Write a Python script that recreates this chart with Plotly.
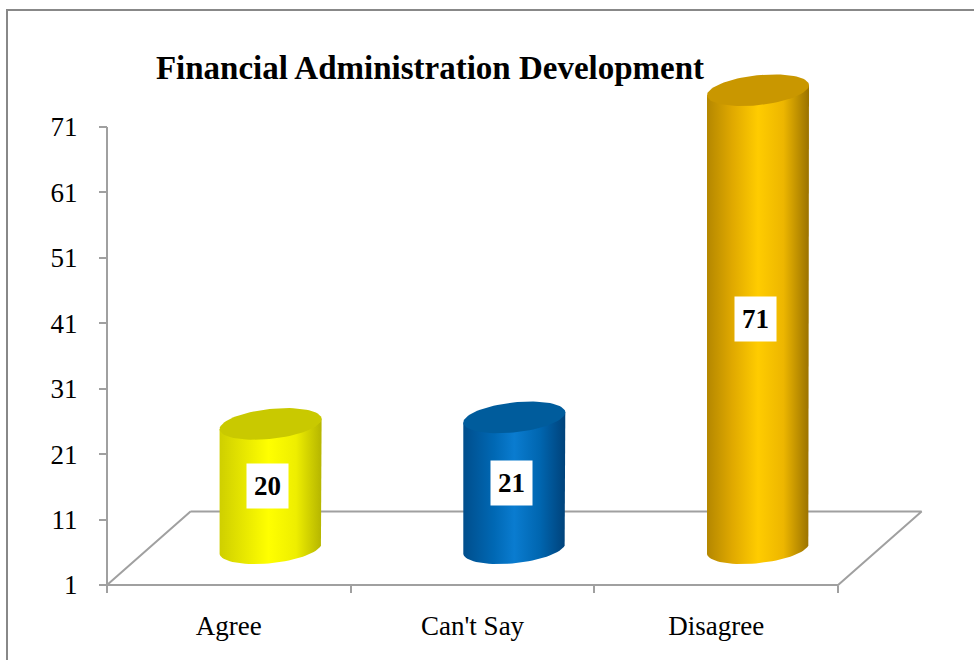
import numpy as np
import plotly.graph_objects as go

# ---------------- data ----------------
categories = ["Agree", "Can't Say", "Disagree"]
values = [20, 21, 71]
y_ticks = [1, 11, 21, 31, 41, 51, 61, 71]
title_text = "Financial Administration Development"

# ---------------- styles ----------------
body_scales = [
    [[0, "#CFCF00"], [0.3, "#EDED00"], [0.48, "#FFFF00"], [0.75, "#EEEE00"], [1, "#B5B500"]],
    [[0, "#004E8C"], [0.3, "#0068B4"], [0.5, "#0A7CD0"], [0.75, "#0066B0"], [1, "#00427A"]],
    [[0, "#B48700"], [0.25, "#E0A900"], [0.5, "#FFCC00"], [0.75, "#EDB600"], [1, "#9A7200"]],
]
cap_colors = ["#C9C900", "#005C9C", "#C99700"]
axis_gray = "#A0A0A0"
FONT = "Liberation Serif"

# ---------------- pixel calibration ----------------
W, H = 974, 660
AX_X = 107.0          # px of the value axis / left category boundary
CAT_PX = 243.7        # px per category
AX_Y = 585.0          # px of the lowest value tick
UNIT_PX = 458.0 / 70  # px per value unit
DEP_X, DEP_Y = 83.5, 73.5  # 3-D depth offset of the floor
RAD_A, RAD_B, TILT = 51.0, 15.0, 0.1
vmin = y_ticks[0]

xr = [-0.5 - AX_X / CAT_PX, -0.5 + (W - AX_X) / CAT_PX]
yr = [vmin - (H - AX_Y) / UNIT_PX, vmin + AX_Y / UNIT_PX]


def dx(px):
    return -0.5 + (np.asarray(px, dtype=float) - AX_X) / CAT_PX


def dy(py):
    return vmin + (AX_Y - np.asarray(py, dtype=float)) / UNIT_PX


fig = go.Figure()

# ---------------- floor ----------------
n = len(categories)
front_l, front_r = AX_X, AX_X + n * CAT_PX
floor_px = [front_l + DEP_X, front_l, front_r, front_r + DEP_X, front_l + DEP_X]
floor_py = [AX_Y - DEP_Y, AX_Y, AX_Y, AX_Y - DEP_Y, AX_Y - DEP_Y]
fig.add_trace(go.Scatter(x=dx(floor_px), y=dy(floor_py), mode="lines",
                         line=dict(color=axis_gray, width=2), hoverinfo="skip",
                         showlegend=False))
# value axis line
fig.add_trace(go.Scatter(x=[-0.5, -0.5], y=[y_ticks[0], y_ticks[-1]], mode="lines",
                         line=dict(color=axis_gray, width=2), hoverinfo="skip",
                         showlegend=False))

# ---------------- cylinders ----------------
annotations = []
for i, (cat, v) in enumerate(zip(categories, values)):
    cx = AX_X + (i + 0.5) * CAT_PX + DEP_X / 2
    by = AX_Y - DEP_Y / 2
    ty = by - (v - vmin) * UNIT_PX
    t = np.linspace(0, np.pi, 40)
    arc_x = cx + RAD_A * np.cos(t)
    arc_y = by + RAD_B * np.sin(t) - TILT * RAD_A * np.cos(t)
    bx = np.concatenate([[cx + RAD_A], arc_x, [cx - RAD_A, cx + RAD_A]])
    byy = np.concatenate([[ty - TILT * RAD_A], arc_y, [ty + TILT * RAD_A, ty - TILT * RAD_A]])
    fig.add_trace(go.Scatter(x=dx(bx), y=dy(byy), mode="lines", fill="toself",
                             line=dict(width=0, color="rgba(0,0,0,0)"),
                             fillgradient=dict(type="horizontal", colorscale=body_scales[i]),
                             hoverinfo="skip", showlegend=False))
    tt = np.linspace(0, 2 * np.pi, 80)
    cap_x = cx + RAD_A * np.cos(tt)
    cap_y = ty + RAD_B * np.sin(tt) - TILT * RAD_A * np.cos(tt)
    fig.add_trace(go.Scatter(x=dx(cap_x), y=dy(cap_y), mode="lines", fill="toself",
                             line=dict(width=0, color="rgba(0,0,0,0)"),
                             fillcolor=cap_colors[i], hoverinfo="skip", showlegend=False))
    annotations.append(dict(
        x=float(dx(cx - 3)), y=float(dy((by + ty) / 2)), xref="x", yref="y",
        text=f"<b>{v}</b>", showarrow=False, bgcolor="white", borderpad=7,
        font=dict(family=FONT, size=27, color="black")))

fig.update_layout(
    width=W, height=H,
    margin=dict(l=0, r=0, t=0, b=0),
    paper_bgcolor="white", plot_bgcolor="rgba(0,0,0,0)",
    title=dict(text=f"<b>{title_text}</b>", x=430 / W, xanchor="center",
               y=1 - 67 / H, yanchor="middle",
               font=dict(family=FONT, size=33, color="black")),
    xaxis=dict(range=xr, domain=[0, 1], anchor="free", position=(H - AX_Y) / H,
               tickvals=list(range(n)), ticktext=categories, ticks="",
               showgrid=False, zeroline=False, showline=False,
               tickfont=dict(family=FONT, size=27, color="black"),
               ticklabelstandoff=22,
               minor=dict(tickvals=[k - 0.5 for k in range(n + 1)], ticks="outside",
                          ticklen=7, tickwidth=2, tickcolor=axis_gray, showgrid=False)),
    yaxis=dict(range=yr, domain=[0, 1], anchor="free", position=AX_X / W,
               tickvals=y_ticks, ticktext=[str(t) for t in y_ticks],
               ticks="outside", ticklen=8, tickwidth=2, tickcolor=axis_gray,
               showgrid=False, zeroline=False, showline=False,
               tickfont=dict(family=FONT, size=27, color="black"),
               ticklabelstandoff=16),
    annotations=annotations,
    shapes=[dict(type="rect", xref="paper", yref="paper",
                 x0=7 / W, x1=1.02, y0=-0.02, y1=1 - 10 / H,
                 line=dict(color="#888888", width=2), fillcolor="rgba(0,0,0,0)",
                 layer="below")],
    showlegend=False,
)

fig.write_html("out.html")
